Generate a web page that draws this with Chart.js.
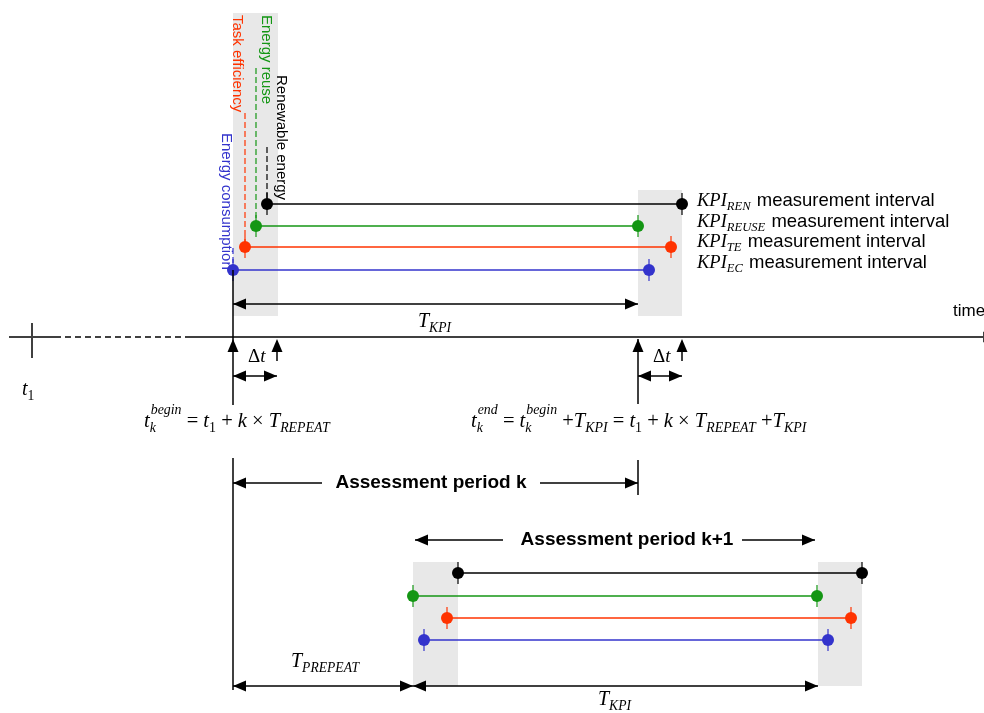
<!DOCTYPE html>
<html>
<head>
<meta charset="utf-8">
<script src="https://cdn.jsdelivr.net/npm/chart.js@4.4.0/dist/chart.umd.min.js"></script>
<style>
  html, body { margin: 0; padding: 0; background: #fff; }
  .wrap { width: 984px; height: 713px; position: relative; }
</style>
</head>
<body>
<div class="wrap"><canvas id="kpiChart"></canvas></div>
<script>
// time positions of the two assessment periods (x units of the time axis)
const periodBegin = [233, 413];
const periodEnd = [638, 818];
const deltaT = 44;
const t1 = 32;

// KPI measurement intervals
const kpiKeys = ['REN', 'REUSE', 'TE', 'EC'];
const kpiNames = ['Renewable energy', 'Energy reuse', 'Task efficiency', 'Energy consumption'];
const startK = [267, 256, 245, 233];
const endK = [682, 638, 671, 649];
const startK1 = [458, 413, 447, 424];
const endK1 = [862, 817, 851, 828];

// rows (y units) of the interval bars
const rowsK = [204, 226, 247, 270];
const rowsK1 = [573, 596, 618, 640];
const leaderTop = [147, 68, 113, 248];

const kpiColors = ['#000000', '#149614', '#ff3300', '#3333cc'];
const serif = '"Liberation Serif", "Times New Roman", serif';
const sans = '"Liberation Sans", Arial, sans-serif';

const datasets = [];
[[startK, endK, rowsK], [startK1, endK1, rowsK1]].forEach(([s, e, rows]) => {
  kpiKeys.forEach((key, i) => {
    const pts = [{ x: s[i], y: rows[i] }, { x: e[i], y: rows[i] }];
    datasets.push({
      label: key, data: pts, showLine: true,
      borderColor: kpiColors[i], backgroundColor: kpiColors[i],
      borderWidth: 1.5, pointRadius: 6, pointBorderWidth: 0, order: 1
    });
    datasets.push({
      label: key + ' tick', data: pts, showLine: false,
      pointStyle: 'line', rotation: 90, pointRadius: 11,
      borderColor: kpiColors[i], pointBorderWidth: 1.2, order: 2
    });
  });
});
// dashed leader lines from the rotated names down to the start points
kpiKeys.forEach((key, i) => {
  datasets.push({
    label: key + ' leader',
    data: [{ x: startK[i], y: leaderTop[i] }, { x: startK[i], y: rowsK[i] }],
    showLine: true, borderDash: [6, 3], borderColor: kpiColors[i],
    borderWidth: 1.2, pointRadius: 0, order: 3
  });
});

function seg(ctx, x1, y1, x2, y2, w, dash) {
  ctx.save();
  ctx.lineWidth = w || 1.5;
  ctx.setLineDash(dash || []);
  ctx.beginPath();
  ctx.moveTo(x1, y1);
  ctx.lineTo(x2, y2);
  ctx.stroke();
  ctx.restore();
}

function head(ctx, x, y, dir) {
  const L = 13, W = 5.5;
  ctx.beginPath();
  ctx.moveTo(x, y);
  if (dir === 'r') { ctx.lineTo(x - L, y - W); ctx.lineTo(x - L, y + W); }
  if (dir === 'l') { ctx.lineTo(x + L, y - W); ctx.lineTo(x + L, y + W); }
  if (dir === 'u') { ctx.lineTo(x - W, y + L); ctx.lineTo(x + W, y + L); }
  ctx.closePath();
  ctx.fill();
}

function dbl(ctx, x1, x2, y) {
  seg(ctx, x1, y, x2, y, 1.5);
  head(ctx, x1, y, 'l');
  head(ctx, x2, y, 'r');
}

// math style text: i = italic, n = upright, b = subscript, bn = upright subscript, bp = [sup, sub]
function math(ctx, x, y, parts, size, subDy, supDy) {
  const small = Math.round(size * 0.68 * 10) / 10;
  subDy = subDy === undefined ? 5 : subDy;
  supDy = supDy === undefined ? 13 : supDy;
  ctx.textAlign = 'left';
  ctx.textBaseline = 'alphabetic';
  parts.forEach(p => {
    if (p.k === 'i' || p.k === 'n') {
      ctx.font = (p.k === 'i' ? 'italic ' : '') + size + 'px ' + serif;
      ctx.fillText(p.t, x, y);
      x += ctx.measureText(p.t).width;
    } else if (p.k === 'b' || p.k === 'bn') {
      ctx.font = (p.k === 'b' ? 'italic ' : '') + small + 'px ' + serif;
      ctx.fillText(p.t, x, y + subDy);
      x += ctx.measureText(p.t).width;
    } else if (p.k === 'bp') {
      ctx.font = 'italic ' + small + 'px ' + serif;
      ctx.fillText(p.t[0], x + 1, y - supDy);
      ctx.fillText(p.t[1], x, y + subDy);
      x += Math.max(ctx.measureText(p.t[0]).width + 1, ctx.measureText(p.t[1]).width);
    }
  });
  return x;
}

const diagramPlugin = {
  id: 'diagram',
  beforeDatasetsDraw(chart) {
    const ctx = chart.ctx, sx = chart.scales.x, sy = chart.scales.y;
    const rect = (xa, xb, ya, yb) => {
      const X = sx.getPixelForValue(xa), Y = sy.getPixelForValue(ya);
      ctx.fillRect(X, Y, sx.getPixelForValue(xb) - X, sy.getPixelForValue(yb) - Y);
    };
    ctx.save();
    ctx.fillStyle = '#e8e8e8';
    rect(periodBegin[0], periodBegin[0] + deltaT + 1, 13, 316);
    rect(periodEnd[0], periodEnd[0] + deltaT, 190, 316);
    rect(periodBegin[1], periodBegin[1] + deltaT + 1, 562, 686);
    rect(periodEnd[1], periodEnd[1] + deltaT, 562, 686);
    ctx.restore();
  },
  afterDatasetsDraw(chart) {
    const ctx = chart.ctx, sx = chart.scales.x, sy = chart.scales.y;
    const X = v => sx.getPixelForValue(v), Y = v => sy.getPixelForValue(v);
    const b0 = X(periodBegin[0]), e0 = X(periodEnd[0]);
    const b1 = X(periodBegin[1]), e1 = X(periodEnd[1]);
    const dt = X(periodBegin[0] + deltaT) - b0;
    ctx.save();

    // time axis
    ctx.strokeStyle = '#404040';
    ctx.fillStyle = '#404040';
    const ay = Y(337);
    seg(ctx, X(9), ay, X(55), ay, 2);
    seg(ctx, X(55), ay, X(188), ay, 2, [6, 4]);
    seg(ctx, X(188), ay, X(984), ay, 2);
    head(ctx, X(996), ay, 'r');
    seg(ctx, X(t1), Y(323), X(t1), Y(358), 2);

    ctx.strokeStyle = '#000';
    ctx.fillStyle = '#000';
    // period boundaries and delta-t markers
    seg(ctx, b0, Y(270), b0, Y(405));
    seg(ctx, e0, Y(339), e0, Y(404));
    seg(ctx, b0, Y(458), b0, Y(690));
    seg(ctx, e0, Y(460), e0, Y(495));
    [b0, e0].forEach(x => {
      head(ctx, x, Y(339), 'u');
      head(ctx, x + dt, Y(339), 'u');
      seg(ctx, x + dt, Y(345), x + dt, Y(361));
      dbl(ctx, x, x + dt, Y(376));
      math(ctx, x + 15, Y(362), [{ t: '\u0394', k: 'n' }, { t: 't', k: 'i' }], 19);
    });

    // T_KPI, assessment periods, T_PREPEAT
    dbl(ctx, b0, e0, Y(304));
    math(ctx, X(418), Y(327), [{ t: 'T', k: 'i' }, { t: 'KPI', k: 'b' }], 20);

    seg(ctx, b0, Y(483), X(322), Y(483));
    head(ctx, b0, Y(483), 'l');
    seg(ctx, X(540), Y(483), e0, Y(483));
    head(ctx, e0, Y(483), 'r');
    ctx.font = 'bold 19px ' + sans;
    ctx.textAlign = 'center';
    ctx.textBaseline = 'alphabetic';
    ctx.fillText('Assessment period k', X(431), Y(488));

    seg(ctx, X(415), Y(540), X(503), Y(540));
    head(ctx, X(415), Y(540), 'l');
    seg(ctx, X(742), Y(540), X(815), Y(540));
    head(ctx, X(815), Y(540), 'r');
    ctx.fillText('Assessment period k+1', X(627), Y(545));

    dbl(ctx, b0, b1, Y(686));
    dbl(ctx, b1, e1, Y(686));
    math(ctx, X(291), Y(667), [{ t: 'T', k: 'i' }, { t: 'PREPEAT', k: 'b' }], 20);
    math(ctx, X(598), Y(705), [{ t: 'T', k: 'i' }, { t: 'KPI', k: 'b' }], 20);

    // formulas
    math(ctx, X(22), Y(395), [{ t: 't', k: 'i' }, { t: '1', k: 'bn' }], 20, 5);
    math(ctx, X(144), Y(427), [
      { t: 't', k: 'i' }, { t: ['begin', 'k'], k: 'bp' }, { t: ' = ', k: 'n' },
      { t: 't', k: 'i' }, { t: '1', k: 'bn' }, { t: ' + ', k: 'n' },
      { t: 'k', k: 'i' }, { t: ' \u00d7 ', k: 'n' }, { t: 'T', k: 'i' }, { t: 'REPEAT', k: 'b' }
    ], 20.5);
    math(ctx, X(471), Y(427), [
      { t: 't', k: 'i' }, { t: ['end', 'k'], k: 'bp' }, { t: ' = ', k: 'n' },
      { t: 't', k: 'i' }, { t: ['begin', 'k'], k: 'bp' }, { t: ' +', k: 'n' },
      { t: 'T', k: 'i' }, { t: 'KPI', k: 'b' }, { t: ' = ', k: 'n' },
      { t: 't', k: 'i' }, { t: '1', k: 'bn' }, { t: ' + ', k: 'n' },
      { t: 'k', k: 'i' }, { t: ' \u00d7 ', k: 'n' }, { t: 'T', k: 'i' }, { t: 'REPEAT', k: 'b' },
      { t: ' +', k: 'n' }, { t: 'T', k: 'i' }, { t: 'KPI', k: 'b' }
    ], 20.5);

    // legend-like interval labels
    const labelBase = [206, 227, 247, 268];
    kpiKeys.forEach((key, i) => {
      ctx.fillStyle = '#000';
      const x = math(ctx, X(697), Y(labelBase[i]), [{ t: 'KPI', k: 'i' }, { t: key, k: 'b' }], 18.5, 4);
      ctx.font = '18.5px ' + sans;
      ctx.fillText(' measurement interval', x + 1, Y(labelBase[i]));
    });

    // rotated KPI names
    const nameX = [281, 266, 237, 226];
    const nameY = [75, 15, 15, 133];
    kpiNames.forEach((name, i) => {
      ctx.save();
      ctx.translate(X(nameX[i]), Y(nameY[i]));
      ctx.rotate(Math.PI / 2);
      ctx.font = '15px ' + sans;
      ctx.fillStyle = kpiColors[i];
      ctx.textAlign = 'left';
      ctx.textBaseline = 'middle';
      ctx.fillText(name, 0, 0);
      ctx.restore();
    });

    ctx.fillStyle = '#000';
    ctx.font = '17px ' + sans;
    ctx.textAlign = 'left';
    ctx.fillText('time', X(953), Y(316));
    ctx.restore();
  }
};

new Chart(document.getElementById('kpiChart'), {
  type: 'scatter',
  data: { datasets },
  options: {
    responsive: true,
    maintainAspectRatio: false,
    animation: false,
    layout: { padding: 0, autoPadding: false },
    plugins: { legend: { display: false }, tooltip: { enabled: false } },
    scales: {
      x: { type: 'linear', min: 0, max: 984, display: false },
      y: { type: 'linear', min: 0, max: 713, reverse: true, display: false }
    }
  },
  plugins: [diagramPlugin]
});
</script>
</body>
</html>
